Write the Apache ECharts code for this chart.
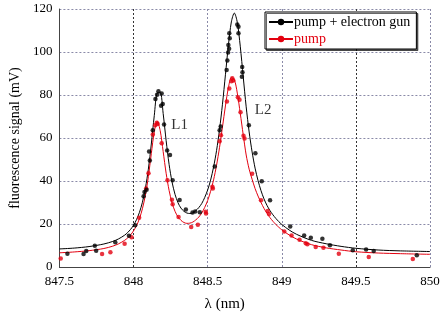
<!DOCTYPE html>
<html><head><meta charset="utf-8">
<script src="https://cdn.jsdelivr.net/npm/echarts@6/dist/echarts.min.js"></script>
<style>html,body{margin:0;padding:0;background:#fff}#c{width:443px;height:317px}</style>
</head><body><div id="c"></div>
<script>
// fitted curves
const fitLambda = [847.5,847.6,847.7,847.8,847.86,847.9,847.94,847.96,847.98,
  848.00,848.02,848.04,848.06,848.08,848.10,848.12,848.14,848.16,848.18,848.20,848.22,848.24,848.26,848.28,848.30,848.32,848.34,848.36,848.38,848.40,
  848.42,848.44,848.46,848.48,848.50,848.52,848.54,848.56,848.58,848.60,848.62,848.64,848.66,848.68,848.70,848.72,848.74,848.76,848.78,848.80,
  848.82,848.84,848.86,848.88,848.90,848.92,848.94,848.96,848.98,849.00,
  849.05,849.1,849.2,849.3,849.4,849.5,849.65,849.8,850];
const fitGun = [8.4,8.8,9.5,10.7,11.9,13.1,14.8,16.0,17.5,
  19.4,22.0,25.4,30.1,36.6,45.5,57.2,70.4,81.0,81.2,71.4,58.8,47.7,39.5,33.8,29.9,27.4,25.9,25.1,24.9,25.2,
  26.2,27.6,29.5,32.3,35.8,40.4,46.5,54.1,63.8,75.7,89.4,103.1,114.0,118.1,113.8,102.7,88.5,74.5,62.8,53.5,
  46.0,40.2,35.5,31.7,28.7,26.3,24.3,22.6,21.1,19.8,
  17.2,15.2,12.4,10.8,9.6,8.7,7.9,7.5,7.2];
const fitPump = [6.6,7.0,7.6,8.6,9.7,10.8,12.4,13.5,14.9,
  16.8,19.2,22.5,27.1,33.4,42.0,52.7,62.9,67.7,63.4,53.7,43.6,35.6,29.8,25.9,23.3,21.7,20.7,20.3,20.4,20.9,
  21.9,23.2,25.1,27.7,30.9,35.2,40.5,47.3,55.5,65.1,74.9,83.4,88.0,87.2,80.9,71.5,61.5,52.1,45.5,40.8,
  36.5,33.0,30.0,27.3,25.0,23.0,21.3,19.8,18.5,17.3,
  14.9,13.0,10.4,8.9,7.9,7.1,6.5,6.2,5.9];

// measured points
const gunLambda = [847.554,847.663,847.681,847.739,847.748,847.877,847.969,848.011,848.068,848.074,848.088,848.105,848.11,848.13,848.148,848.159,848.168,848.19,848.186,848.197,848.206,848.227,848.246,848.264,848.311,848.353,848.398,848.416,848.447,848.548,848.581,848.588,848.628,848.633,848.638,848.645,848.64,848.649,848.646,848.7,848.708,848.708,848.733,848.735,848.731,848.778,848.822,848.865,848.921,849.057,849.151,849.196,849.274,849.325,849.479,849.569,849.62,849.911];
const gunSignal = [6.2,6.0,7.5,9.9,7.6,11.5,14.5,19.4,32.9,34.9,35.9,53.7,49.5,63.6,78.1,80.1,81.8,80.7,75.0,75.8,66.3,54.2,52.1,40.4,31.2,26.7,25.4,25.8,25.5,46.8,63.6,65.4,91.6,96.0,99.8,101.5,103.3,106.4,108.7,112.8,111.7,108.7,93.0,90.6,88.5,65.9,52.9,39.9,31.0,18.8,14.7,13.6,13.1,10.1,7.8,8.1,7.5,5.5];
const pumpLambda = [847.509,847.788,847.844,847.94,847.987,848.038,848.085,848.101,848.13,848.146,848.157,848.163,848.19,848.229,848.259,848.264,848.304,848.389,848.434,848.487,848.489,848.532,848.535,848.581,848.59,848.63,848.646,848.66,848.666,848.673,848.704,848.715,848.722,848.742,848.749,848.8,848.86,848.905,848.914,849.017,849.066,849.12,849.162,849.173,849.229,849.281,849.385,849.587,849.884];
const pumpSignal = [3.9,6.1,6.9,10.8,13.8,22.9,36.5,43.6,61.6,65.9,67.1,66.5,57.6,40.4,31.3,29.2,23.2,18.6,19.7,25.7,24.9,37.3,36.5,58.5,61.3,77.0,83.0,86.4,87.8,86.8,78.9,77.8,72.0,61.0,59.8,43.4,31.0,26.1,24.6,16.5,14.7,12.7,11.1,10.6,9.3,8.9,6.2,4.7,3.7];

const seriesNames = ['pump + electron gun','pump'];
const peakLabels = ['L1','L2'];
const peakLabelAt = [[848.311,66.2],[848.874,73.1]];

const zip = (a,b)=>a.map((v,i)=>[v,b[i]]);
const F = 'Liberation Serif';
const RED = '#e3000f';

const chart = echarts.init(document.getElementById('c'));
chart.setOption({
  animation:false,
  backgroundColor:'#fff',
  grid:{left:57,right:13,top:9,bottom:47},
  legend:{
    orient:'vertical', left:265, top:12,
    padding:[3,6,3,3], itemGap:3, itemWidth:24, itemHeight:8,
    backgroundColor:'#fff', borderColor:'#000', borderWidth:1,
    shadowColor:'rgba(0,0,0,0.6)', shadowOffsetX:1.5, shadowOffsetY:1.5, shadowBlur:0,
    textStyle:{fontFamily:F,fontSize:14,padding:[0,0,0,-4]},
    data:[{name:seriesNames[0],textStyle:{color:'#000'}},{name:seriesNames[1],textStyle:{color:RED}}]
  },
  xAxis:{
    type:'value', min:847.5, max:850, interval:0.5,
    name:'λ (nm)', nameLocation:'middle', nameGap:30,
    nameTextStyle:{fontFamily:F,fontSize:15,color:'#000',padding:[0,40,0,0]},
    axisLine:{lineStyle:{color:'#444'}}, axisTick:{show:false},
    axisLabel:{fontFamily:F,fontSize:13,color:'#000',margin:8},
    splitLine:{show:true,lineStyle:{type:[2,2],color:['#666','#333','#8a8aa8','#8a8aa8','#333','#8a8aa8'],width:1}}
  },
  yAxis:{
    type:'value', min:0, max:120, interval:20,
    name:'fluorescence signal (mV)', nameLocation:'middle', nameGap:31,
    nameTextStyle:{fontFamily:F,fontSize:14,color:'#000'},
    axisLine:{show:true,lineStyle:{color:'#444'}}, axisTick:{show:false},
    axisLabel:{fontFamily:F,fontSize:13,color:'#000',margin:7},
    splitLine:{show:true,lineStyle:{type:[2,2],color:'#8a8aa8',width:1}}
  },
  series:[
    {name:seriesNames[0],type:'line',data:zip(fitLambda,fitGun),smooth:0.3,
     showSymbol:false,symbol:'circle',symbolSize:5,itemStyle:{color:'#000'},lineStyle:{color:'#000',width:1},z:2},
    {name:seriesNames[0],type:'scatter',data:zip(gunLambda,gunSignal),symbol:'circle',symbolSize:4.5,itemStyle:{color:'#000'},z:4},
    {name:seriesNames[1],type:'line',data:zip(fitLambda,fitPump),smooth:0.3,
     showSymbol:false,symbol:'circle',symbolSize:5,itemStyle:{color:RED},lineStyle:{color:RED,width:1},z:2},
    {name:seriesNames[1],type:'scatter',data:zip(pumpLambda,pumpSignal),symbol:'circle',symbolSize:4.5,itemStyle:{color:RED},z:3},
    {name:'labels',type:'scatter',symbolSize:0,silent:true,
     data:peakLabelAt.map((p,i)=>({value:p,name:peakLabels[i]})),
     label:{show:true,position:'inside',formatter:p=>p.name,fontFamily:F,fontSize:15,color:'#000'}}
  ]
});
</script></body></html>
